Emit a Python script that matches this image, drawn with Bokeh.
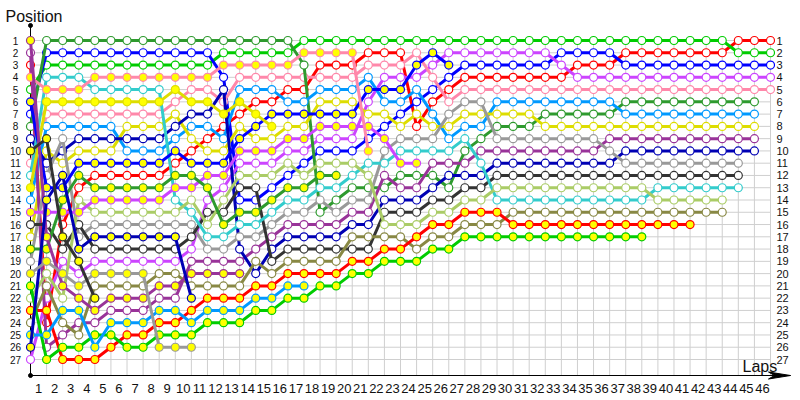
from bokeh.plotting import figure
from bokeh.models import Range1d, ColumnDataSource
from bokeh.embed import file_html
from bokeh.resources import INLINE
from bokeh.core.properties import value

# ---- data ----
DRIVER_COLORS = {
    "R": "#ff0000", "G": "#00cc00", "B": "#0000ff", "V": "#cc44ff", "P": "#ff88aa",
    "DG": "#2e9a2e", "SB": "#0099ff", "Y": "#dddd00", "M": "#993399", "N": "#0000b4",
    "GR": "#999999", "K": "#333333", "C": "#33cccc", "LG": "#aacc66", "O": "#888844",
    "R2": "#ff0000", "G2": "#00cc00", "B2": "#0000ff", "V2": "#cc44ff", "P2": "#ff88aa",
    "DG2": "#2e9a2e", "SB2": "#0099ff", "Y2": "#dddd00", "M2": "#993399", "N2": "#0000b4",
    "GR2": "#999999", "K2": "#333333",
}
YELLOW_MARKED = ["R2", "G2", "B2", "V2", "P2", "DG2", "SB2", "Y2", "M2", "N2", "GR2", "K2"]

# running order per lap (lap 0 .. 46), first entry = position 1
LAP_ORDER = [
    "M2 M R P2 G B2 B DG N K2 P C Y2 SB V2 K Y DG2 GR GR2 G2 LG R2 O SB2 N2 V",
    "DG B G C P2 Y2 P SB K2 Y N GR B2 N2 V2 K M2 DG2 GR2 LG O V R2 R SB2 M G2",
    "DG B G C P2 Y2 P SB GR N Y N2 B2 DG2 V2 R K2 K V GR2 M2 LG SB2 O M G2 R2",
    "DG B G C P2 Y2 P SB N Y B2 DG2 R LG V2 K GR N2 K2 V GR2 M2 SB2 M O G2 R2",
    "DG B G P2 C Y2 P SB N Y B2 R DG2 V2 LG GR N2 K V GR2 O K2 M2 M G2 SB2 R2",
    "DG B G P2 C Y2 P SB N Y B2 R DG2 V2 LG GR N2 K V GR2 O M2 M SB2 G2 R2",
    "DG B G P2 C Y2 P Y N SB B2 R DG2 V2 LG GR N2 K V GR2 O M2 M SB2 R2 G2",
    "DG B G P2 C Y2 P Y N SB B2 R DG2 V2 LG GR N2 K V GR2 O M2 M SB2 R2 G2",
    "DG B G P2 C Y2 P Y N SB B2 R DG2 V2 LG GR N2 K V O M2 M SB2 R2 G2 GR2",
    "DG B G P2 Y2 P Y N SB B2 R DG2 V2 C LG GR N2 K V O M2 M SB2 R2 G2 GR2",
    "DG B G P2 P Y2 N SB Y R B2 DG2 V2 LG C GR K V M M2 O N2 R2 SB2 G2 GR2",
    "DG B G P2 P Y2 N SB R Y B2 V2 DG2 V K LG C GR M M2 O R2 SB2 G2",
    "DG G P2 B N P Y2 R SB Y B2 V2 V LG K DG2 C GR M M2 O R2 SB2 G2",
    "DG G P2 P SB Y2 R Y B2 V2 V LG K B DG2 C GR N M M2 O R2 SB2 G2",
    "DG G P2 P SB R Y2 B2 Y V2 V LG K B DG2 C GR M O N R2 SB2 G2",
    "DG G P2 P SB R B2 Y2 Y V2 V LG B DG2 C GR M N K O R2 SB2 G2",
    "DG G P2 P R SB B2 Y V2 V LG B DG2 C GR M N K O R2 SB2 G2",
    "G P2 DG P R SB B2 Y V2 V B LG DG2 C GR M N K O R2 SB2 G2",
    "G P2 R P SB Y B2 V2 V B LG DG2 C GR DG M N K O R2 G2",
    "G P2 R P SB Y B2 V2 V B LG DG2 C DG GR M N K O R2 G2",
    "G P2 R P SB Y B2 V2 V B LG C DG GR M N O K R2 G2",
    "G R P SB B2 V Y V2 B P2 C LG DG GR M N O K R2 G2",
    "G R P V B2 SB Y B V2 GR C M DG N K LG O R2 G2",
    "G R P V B2 SB B Y GR C V2 DG M N K LG O R2 G2",
    "G P B2 V SB B Y R GR C V2 DG M N K LG R2 O G2",
    "G B2 V P B R SB Y GR C M DG N K LG R2 O G2",
    "G V B2 B R P GR Y SB C M N DG K LG R2 O G2",
    "G V B R P GR Y SB C DG M N K LG R2 O G2",
    "G V B R P GR Y SB DG M C N K LG R2 O G2",
    "G V B R P SB Y DG GR M N K LG C R2 O G2",
    "G V B R P SB Y DG GR M N K LG C O R2 G2",
    "G V B R P SB Y DG GR M N K LG C O R2 G2",
    "G V B R P SB DG Y GR M N K LG C O R2 G2",
    "G B V R P SB DG Y GR M N K LG C O R2 G2",
    "G B R V P SB DG Y GR M N K LG C O R2 G2",
    "G B R V P SB DG Y GR M N K LG C O R2 G2",
    "G B R V P SB DG Y M GR N K LG C O R2 G2",
    "G R B V P DG SB Y M N GR K LG C O R2 G2",
    "G R B V P DG SB Y M N GR K LG C O R2 G2",
    "G R B V P DG SB Y M N GR K C LG O R2",
    "G R B V P DG SB Y M N GR K C LG O R2",
    "G R B V P DG SB Y M N GR K C LG O R2",
    "G R B V P DG SB Y M N GR K C LG O",
    "G R B V P DG SB Y M N GR K C LG O",
    "R G B V P DG SB Y M N GR K C",
    "R G B V P DG SB Y M N",
    "R G B V P",
]
LAP_LABELS = [str(i) for i in range(1, 47)]
POSITION_LABELS = [str(i) for i in range(1, 28)]

# ---- figure ----
W, H = 800, 400
dx = (770 - 30) / 46.0
dy = (359 - 40) / 26.0
x0 = (0 - 30) / dx
x1 = (W - 30) / dx
ytop = 1 + (0 - 40) / dy
ybot = 1 + (H - 40) / dy

p = figure(width=W, height=H, x_range=Range1d(x0, x1), y_range=Range1d(ybot, ytop),
           output_backend="svg", toolbar_location=None, x_axis_type=None, y_axis_type=None,
           min_border=0, min_border_left=0, min_border_right=0, min_border_top=0, min_border_bottom=0)
p.outline_line_color = None
p.grid.visible = False
p.background_fill_color = "white"

n_laps = len(LAP_ORDER) - 1
n_pos = len(POSITION_LABELS)
axis_y = 1 + (375 - 40) / dy
axis_top = 1 + (25 - 40) / dy

# grid
p.segment(x0=list(range(0, n_laps + 1)), y0=[1] * (n_laps + 1), x1=list(range(0, n_laps + 1)),
          y1=[axis_y] * (n_laps + 1), line_color="#cfcfcf", line_width=1)
p.segment(x0=[0] * n_pos, y0=list(range(1, n_pos + 1)), x1=[n_laps] * n_pos,
          y1=list(range(1, n_pos + 1)), line_color="#cfcfcf", line_width=1)

# axes
p.segment(x0=[0], y0=[axis_top], x1=[0], y1=[axis_y], line_color="black", line_width=1)
ah = (790 - 30) / dx
p.segment(x0=[0], y0=[axis_y], x1=[ah], y1=[axis_y], line_color="black", line_width=1)
p.patch(x=[ah, ah - 22 / dx, ah - 16 / dx, ah - 22 / dx], y=[axis_y, axis_y - 3.5 / dy, axis_y, axis_y + 3.5 / dy],
        fill_color="black", line_color="black")
p.scatter(x=[0, 0], y=[axis_top, axis_y], size=4, color="black")

# series
drivers = list(DRIVER_COLORS.keys())
track = {d: ([], []) for d in drivers}
for lap, order in enumerate(LAP_ORDER):
    for pos, d in enumerate(order.split(), start=1):
        track[d][0].append(lap)
        track[d][1].append(pos)

for d in drivers:
    xs, ys = track[d]
    col = DRIVER_COLORS[d]
    fill = "#ffff00" if d in YELLOW_MARKED else "white"
    src = ColumnDataSource(dict(x=xs, y=ys))
    p.line("x", "y", source=src, line_color=col, line_width=3)
    p.scatter("x", "y", source=src, marker="circle", size=8, fill_color=fill, line_color=col, line_width=1.2)

# labels
font = value("Liberation Sans")
p.text(x=[i + 0.5 for i in range(n_laps)], y=[1 + (388 - 40) / dy] * n_laps, text=LAP_LABELS,
       text_align="center", text_baseline="middle", text_font=font, text_font_size="13px", text_color="#111111")
p.text(x=[(15 - 30) / dx] * n_pos, y=list(range(1, n_pos + 1)), text=POSITION_LABELS,
       text_align="center", text_baseline="middle", text_font=font, text_font_size="10px", text_color="#111111")
p.text(x=[(776 - 30) / dx] * n_pos, y=list(range(1, n_pos + 1)), text=POSITION_LABELS,
       text_align="left", text_baseline="middle", text_font=font, text_font_size="11px", text_color="#111111")
p.text(x=[(5 - 30) / dx], y=[1 + (16 - 40) / dy], text=["Position"], text_align="left", text_baseline="middle",
       text_font=font, text_font_size="16px", text_color="#111111")
p.text(x=[(742 - 30) / dx], y=[1 + (366 - 40) / dy], text=["Laps"], text_align="left", text_baseline="middle",
       text_font=font, text_font_size="16px", text_color="#111111")

open("out.html", "w").write(file_html(p, INLINE))
